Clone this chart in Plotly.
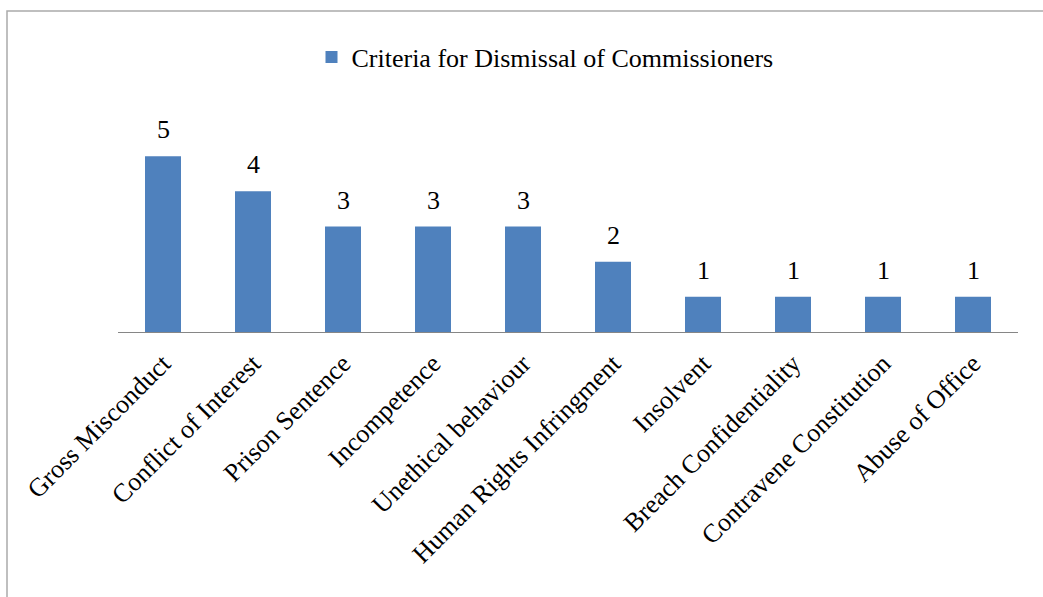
import plotly.graph_objects as go

# Criteria and how often each was cited
categories = [
    "Gross Misconduct",
    "Conflict of Interest",
    "Prison Sentence",
    "Incompetence",
    "Unethical behaviour",
    "Human Rights Infringment",
    "Insolvent",
    "Breach Confidentiality",
    "Contravene Constitution",
    "Abuse of Office",
]
counts = [5, 4, 3, 3, 3, 2, 1, 1, 1, 1]
series_name = "Criteria for Dismissal of Commissioners"

FONT = "Liberation Serif"
BAR_COLOR = "#4F81BD"
TEXT_SIZE = 26

fig = go.Figure()
fig.add_trace(
    go.Bar(
        x=categories,
        y=counts,
        name=series_name,
        marker=dict(color=BAR_COLOR, line=dict(width=0)),
        showlegend=True,
    )
)

# value labels above each bar
for cat, val in zip(categories, counts):
    fig.add_annotation(
        x=cat, y=val, text=str(val), showarrow=False,
        yanchor="bottom", yshift=10,
        font=dict(family=FONT, size=TEXT_SIZE, color="#000000"),
    )

L, R, T, B = 118, 25, 121, 265
plot_h = 597 - T - B

# outer chart border
fig.add_shape(
    type="rect", xref="paper", yref="paper",
    x0=(7 - L) / 900, x1=(1060 - L) / 900,
    y0=(332 - 610) / plot_h, y1=(332 - 11) / plot_h,
    line=dict(color="#ABABAB", width=1.5), fillcolor="rgba(0,0,0,0)",
    layer="below",
)

fig.update_layout(
    width=1043, height=597,
    margin=dict(l=L, r=R, t=T, b=B, autoexpand=False),
    paper_bgcolor="white", plot_bgcolor="white",
    bargap=0.6,
    font=dict(family=FONT, color="#000000"),
    showlegend=True,
    legend=dict(
        orientation="h", x=(545 - L) / 900, xanchor="center",
        y=(332 - 57) / plot_h, yanchor="middle",
        font=dict(family=FONT, size=TEXT_SIZE),
    ),
    xaxis=dict(
        showline=True, linecolor="#868686", linewidth=1,
        ticks="", tickangle=-45, showgrid=False,
        ticklabelstandoff=5,
        tickfont=dict(family=FONT, size=TEXT_SIZE),
    ),
    yaxis=dict(
        range=[0, 6], visible=False, showgrid=False, zeroline=False,
    ),
)

fig.write_html("out.html")
